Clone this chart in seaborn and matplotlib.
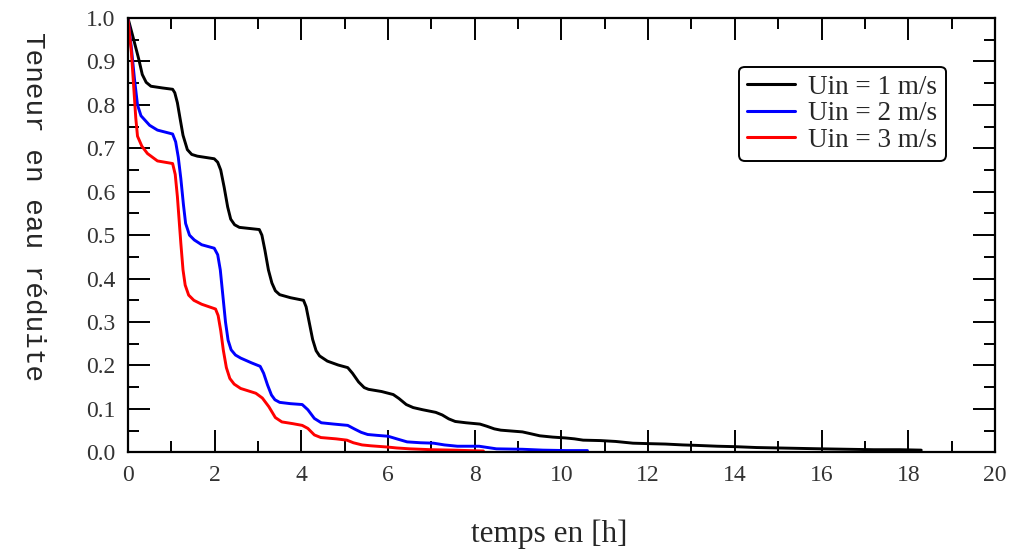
import numpy as np
import pandas as pd
import matplotlib
matplotlib.use("Agg")
import matplotlib.pyplot as plt
import seaborn as sns
from matplotlib.ticker import MultipleLocator, FormatStrFormatter

# Uin = 1 m/s (black)
t1 = [0.00, 0.12, 0.25, 0.33, 0.42, 0.53, 0.80, 1.03, 1.08, 1.14, 1.20, 1.27, 1.37, 1.47, 1.60, 1.99,
      2.07, 2.14, 2.22, 2.30, 2.37, 2.46, 2.57, 3.03, 3.09, 3.16, 3.24, 3.32, 3.40, 3.50, 3.75, 4.05,
      4.11, 4.18, 4.26, 4.34, 4.42, 4.60, 4.85, 5.07, 5.18, 5.32, 5.45, 5.55, 5.85, 6.12,
      6.25, 6.42, 6.58, 6.80, 7.10, 7.25, 7.40, 7.55, 7.80, 8.12, 8.28, 8.45, 8.60,
      8.85, 9.10, 9.28, 9.50, 9.80, 10.1, 10.3, 10.5, 10.9, 11.25, 11.45, 11.65, 12.0,
      12.4, 12.8, 13.1, 13.6, 14.0, 14.5, 15.0, 15.5, 16.0, 16.6, 17.2, 17.8, 18.3]
y1 = [1.000, 0.955, 0.905, 0.870, 0.852, 0.843, 0.839, 0.836, 0.828, 0.805, 0.770, 0.730, 0.697, 0.686, 0.682, 0.676,
      0.668, 0.650, 0.610, 0.565, 0.537, 0.524, 0.518, 0.513, 0.500, 0.465, 0.420, 0.390, 0.372, 0.363, 0.356, 0.350,
      0.335, 0.300, 0.260, 0.234, 0.222, 0.210, 0.201, 0.195, 0.182, 0.162, 0.149, 0.145, 0.140, 0.133,
      0.124, 0.110, 0.103, 0.098, 0.092, 0.086, 0.077, 0.071, 0.068, 0.065, 0.060, 0.054, 0.051,
      0.049, 0.047, 0.043, 0.038, 0.035, 0.033, 0.031, 0.028, 0.027, 0.025, 0.023, 0.021, 0.020,
      0.019, 0.017, 0.016, 0.014, 0.013, 0.011, 0.010, 0.009, 0.008, 0.007, 0.006, 0.006, 0.005]

# Uin = 2 m/s (blue)
t2 = [0.00, 0.08, 0.15, 0.22, 0.30, 0.50, 0.68, 1.03, 1.10, 1.16, 1.22, 1.28, 1.33, 1.42, 1.53, 1.70, 1.99,
      2.07, 2.13, 2.19, 2.25, 2.31, 2.38, 2.48, 2.60, 2.85, 3.05, 3.13, 3.22, 3.31, 3.39, 3.50, 3.75, 4.02,
      4.15, 4.30, 4.46, 4.75, 5.07, 5.22, 5.38, 5.53, 5.75, 6.00, 6.20, 6.44, 6.75, 7.05,
      7.30, 7.60, 8.10, 8.30, 8.50, 9.10, 9.57, 10.1, 10.6]
y2 = [1.000, 0.930, 0.860, 0.800, 0.775, 0.753, 0.742, 0.733, 0.715, 0.680, 0.630, 0.570, 0.527, 0.500, 0.489, 0.478, 0.470,
      0.455, 0.420, 0.360, 0.300, 0.258, 0.236, 0.224, 0.217, 0.206, 0.198, 0.182, 0.155, 0.132, 0.121, 0.115, 0.112, 0.110,
      0.098, 0.078, 0.068, 0.065, 0.062, 0.054, 0.046, 0.041, 0.039, 0.037, 0.031, 0.024, 0.022, 0.021,
      0.017, 0.014, 0.014, 0.011, 0.008, 0.007, 0.005, 0.004, 0.004]

# Uin = 3 m/s (red)
t3 = [0.00, 0.08, 0.14, 0.18, 0.22, 0.32, 0.45, 0.68, 1.03, 1.09, 1.14, 1.18, 1.22, 1.27, 1.32, 1.40, 1.52, 1.70, 2.02,
      2.08, 2.14, 2.20, 2.27, 2.35, 2.45, 2.60, 2.95, 3.10, 3.25, 3.40, 3.55, 3.80, 4.02, 4.15, 4.30,
      4.45, 4.80, 5.05, 5.20, 5.40, 5.60, 6.00, 6.20, 6.50, 7.00, 7.50, 8.20]
y3 = [1.000, 0.920, 0.830, 0.770, 0.728, 0.705, 0.688, 0.671, 0.665, 0.640, 0.589, 0.535, 0.481, 0.420, 0.385, 0.362, 0.350, 0.341, 0.330,
      0.315, 0.280, 0.235, 0.195, 0.170, 0.157, 0.147, 0.136, 0.125, 0.105, 0.080, 0.070, 0.066, 0.062, 0.055, 0.040,
      0.034, 0.031, 0.028, 0.022, 0.017, 0.015, 0.012, 0.010, 0.008, 0.006, 0.005, 0.003]

labels = ["Uin = 1 m/s", "Uin = 2 m/s", "Uin = 3 m/s"]
colors = ["black", "blue", "red"]

df = pd.concat([
    pd.DataFrame({"t": t1, "y": y1, "serie": labels[0]}),
    pd.DataFrame({"t": t2, "y": y2, "serie": labels[1]}),
    pd.DataFrame({"t": t3, "y": y3, "serie": labels[2]}),
], ignore_index=True)

sns.set_style("ticks")
plt.rcParams["font.family"] = ["Liberation Serif", "DejaVu Serif"]

fig = plt.figure(figsize=(10.14, 5.56), dpi=100)
ax = fig.add_axes([0.1262, 0.1865, 0.855, 0.781])

sns.lineplot(data=df, x="t", y="y", hue="serie", palette=colors, estimator=None,
             sort=False, linewidth=2.1, ax=ax)

ax.set_xlim(0, 20)
ax.set_ylim(0, 1.0)
ax.xaxis.set_major_locator(MultipleLocator(2))
ax.xaxis.set_minor_locator(MultipleLocator(1))
ax.yaxis.set_major_locator(MultipleLocator(0.1))
ax.yaxis.set_minor_locator(MultipleLocator(0.05))
ax.yaxis.set_major_formatter(FormatStrFormatter("%.1f"))
ax.tick_params(which="both", direction="in", top=True, right=True, width=1.4, colors="black")
ax.tick_params(which="major", length=16, labelsize=17, pad=9)
ax.tick_params(which="minor", length=8)
for sp in ax.spines.values():
    sp.set_linewidth(1.6)
    sp.set_color("black")
for lab in ax.get_xticklabels() + ax.get_yticklabels():
    lab.set_color("#333333")

ax.set_xlabel("temps en [h]", fontsize=22.5)
ax.xaxis.set_label_coords(0.4856, -0.155)
ax.set_ylabel("Teneur en eau réduite", fontsize=20, family="Liberation Mono", rotation=270)
ax.yaxis.set_label_coords(-0.125, 0.567)

leg = ax.legend(loc="upper right", bbox_to_anchor=(0.943, 0.888), fontsize=19.5, frameon=True,
                fancybox=True, framealpha=1, edgecolor="black", labelspacing=0.05,
                handlelength=1.75, handletextpad=0.5, borderpad=0.3, borderaxespad=0)
leg.get_frame().set_linewidth(1.4)
for line in leg.get_lines():
    line.set_linewidth(2.2)

fig.savefig("out.png", dpi=100)
